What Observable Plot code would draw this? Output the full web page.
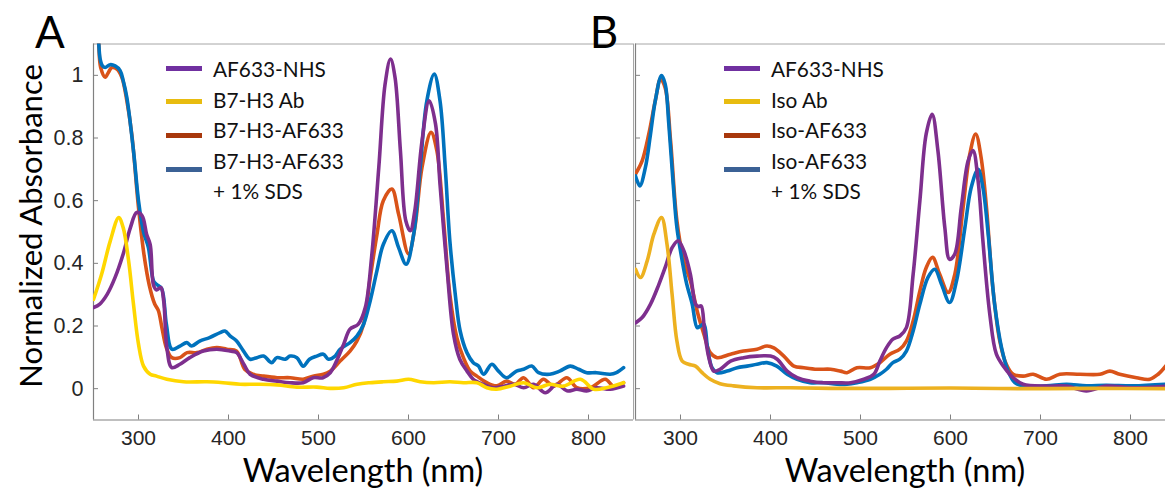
<!DOCTYPE html>
<html><head><meta charset="utf-8">
<script src="https://cdn.jsdelivr.net/npm/d3@7"></script>
<script src="https://cdn.jsdelivr.net/npm/@observablehq/plot@0.6"></script>
<style>
html,body{margin:0;padding:0;background:#fff;}
#wrap{position:relative;width:1165px;height:489px;overflow:hidden;}
.panel{position:absolute;top:0;}
.panel svg text{font-family:"Liberation Sans",Arial,sans-serif;}
.ttl{position:absolute;font-family:Lato,"Open Sans",sans-serif;color:#000;white-space:nowrap;line-height:1;}
.leg{position:absolute;font-family:Lato,"Open Sans",sans-serif;font-size:20.8px;color:#111;line-height:30.5px;width:300px;}
.leg .sw{position:absolute;width:36px;height:5px;}
.leg .tx{position:absolute;white-space:nowrap;}
</style></head>
<body><div id="wrap"></div>
<script>
// ---------- data ----------
const xTicks = [300, 400, 500, 600, 700, 800];
const yTicks = [0, 0.2, 0.4, 0.6, 0.8, 1];
const yTickLabels = ["0", "0.2", "0.4", "0.6", "0.8", "1"];
const legendA = ["AF633-NHS", "B7-H3 Ab", "B7-H3-AF633", "B7-H3-AF633\n+ 1% SDS"];
const legendB = ["AF633-NHS", "Iso Ab", "Iso-AF633", "Iso-AF633\n+ 1% SDS"];

// Panel A: [wavelength nm, normalized absorbance]
const A_NHS = [[250,0.259],[257,0.27],[265,0.30],[274,0.355],[283,0.43],[291,0.514],[298,0.562],[304,0.552],[309,0.493],[313,0.46],[316.7,0.33],[320,0.315],[324.8,0.323],[328,0.28],[331.5,0.131],[337,0.067],[346,0.078],[357,0.099],[372,0.12],[387,0.126],[402,0.12],[409,0.115],[417,0.078],[424,0.046],[439,0.03],[454,0.024],[468,0.019],[483,0.019],[494,0.035],[505,0.035],[513,0.051],[520,0.088],[528,0.142],[535,0.19],[544,0.205],[552,0.259],[559,0.42],[567,0.706],[574,0.972],[580,1.052],[585,0.994],[591,0.76],[597,0.536],[602,0.504],[607,0.568],[615,0.79],[623,0.919],[630,0.845],[635,0.653],[643,0.376],[650,0.174],[657,0.094],[665,0.056],[672,0.03],[683,0.014],[694,0.003],[706,0.008],[717,0.014],[728,0.003],[739,0.014],[752,-0.013],[765,0.014],[776,-0.007],[787,-0.002],[798,-0.007],[809,0.003],[824,-0.002],[839,0.008]];
const A_Ab = [[250,0.285],[259,0.365],[268.5,0.47],[278,0.546],[283,0.514],[289,0.408],[294.4,0.27],[300,0.142],[305.6,0.072],[313,0.046],[320,0.04],[331.5,0.03],[350,0.022],[376,0.022],[394,0.019],[413,0.014],[431.5,0.014],[454,0.012],[476,0.005],[498,0.005],[513,0.001],[528,0.003],[543,0.014],[557,0.019],[572,0.022],[587,0.024],[600,0.03],[613,0.022],[628,0.019],[646,0.022],[661,0.019],[676,0.019],[687,0.003],[698,-0.002],[713,0.008],[728,0.019],[743,0.003],[757,0.014],[772,0.008],[791,0.03],[806,-0.002],[820,0.003],[839,0.019]];
const A_Conj = [[250,1.3],[255.6,1.11],[258,1.025],[263,0.994],[266.7,1.01],[270.4,1.025],[276,1.02],[281.5,0.994],[287,0.92],[292.6,0.81],[300,0.578],[306,0.43],[312,0.33],[318,0.27],[322,0.25],[326,0.195],[331,0.13],[337,0.099],[346,0.099],[354,0.115],[365,0.115],[376,0.126],[387,0.131],[398,0.126],[409,0.12],[418,0.062],[427,0.046],[439,0.04],[454,0.035],[468.5,0.035],[483,0.03],[494,0.04],[505.5,0.046],[513,0.056],[524,0.088],[535,0.12],[542.6,0.152],[550,0.205],[557,0.344],[565,0.493],[572,0.6],[581.5,0.637],[589,0.557],[600,0.43],[607,0.514],[615,0.706],[625,0.818],[631.5,0.76],[639,0.536],[646,0.30],[653.7,0.163],[661,0.099],[668.6,0.056],[676,0.04],[687,0.019],[698,0.009],[709,0.024],[718.6,0.014],[727.8,0.035],[739,0.003],[750,0.03],[761,0.008],[776,0.035],[787,0.003],[802,0.003],[818.6,0.03],[828,0.008],[839,0.019]];
const A_SDS = [[250,1.3],[255.6,1.11],[257.4,1.052],[260,1.03],[263,1.025],[268.5,1.034],[274,1.03],[279.6,1.015],[283,0.983],[287,0.93],[294.4,0.76],[300,0.6],[305.6,0.50],[311,0.45],[316.7,0.344],[320,0.333],[325.6,0.32],[331,0.205],[337,0.126],[346,0.136],[353.7,0.147],[359,0.136],[368,0.152],[379,0.163],[390.7,0.179],[396,0.184],[402,0.168],[409,0.152],[416.7,0.12],[424,0.094],[431.5,0.099],[439,0.104],[448,0.083],[453.7,0.099],[463,0.094],[468.5,0.104],[476,0.099],[483,0.072],[490,0.094],[498,0.104],[505.5,0.11],[511,0.094],[518.5,0.104],[524,0.126],[535,0.147],[542.6,0.168],[550,0.205],[557.4,0.28],[564.9,0.376],[572,0.46],[581.5,0.504],[589,0.45],[597.4,0.397],[605.6,0.49],[613,0.706],[620.4,0.919],[628.6,1.004],[635,0.919],[640.8,0.706],[646,0.47],[652,0.30],[657.4,0.184],[664.9,0.115],[672,0.083],[677.8,0.072],[683.4,0.046],[692.6,0.078],[700,0.056],[709,0.035],[720,0.056],[728,0.062],[737,0.072],[744.5,0.051],[757,0.046],[768,0.056],[779.7,0.072],[789,0.062],[798,0.051],[809,0.051],[824,0.046],[831,0.051],[839,0.067]];

// Panel B
const B_NHS = [[250,0.21],[257.4,0.227],[266.7,0.27],[276,0.333],[283,0.387],[290.7,0.45],[297.4,0.472],[303.7,0.44],[311,0.365],[316.7,0.27],[320,0.262],[323,0.264],[326.7,0.184],[331.5,0.099],[337,0.056],[344,0.062],[355.6,0.088],[370,0.099],[385,0.104],[400,0.104],[407.4,0.094],[418.5,0.056],[429.6,0.035],[444,0.024],[459,0.019],[474,0.019],[489,0.019],[503.7,0.03],[514.8,0.046],[521.5,0.088],[528.9,0.131],[536,0.158],[543.7,0.168],[551,0.195],[558.5,0.365],[566,0.6],[573,0.813],[579.6,0.876],[586,0.76],[593.7,0.514],[599,0.413],[604.8,0.43],[612,0.578],[619.6,0.727],[625,0.76],[630.7,0.663],[636,0.472],[643.7,0.237],[651,0.11],[660,0.067],[669.6,0.035],[680.7,0.014],[706.7,0.008],[729,0.008],[751,-0.007],[773,0.008],[803,0.003],[839,0.008]];
const B_Ab = [[250,0.381],[255.6,0.355],[263,0.408],[270.4,0.493],[278.9,0.546],[285,0.461],[290.7,0.30],[296,0.152],[301.9,0.088],[309,0.078],[316.7,0.072],[324,0.051],[333,0.03],[344,0.016],[359,0.009],[385,0.003],[422,0.003],[467,0.001],[533,0.001],[600,0.002],[680,0.0],[760,0.001],[839,0.0]];
const B_Conj = [[250,0.685],[257.4,0.727],[264.8,0.813],[272,0.919],[277.8,0.988],[283,0.96],[289,0.79],[296,0.536],[303.7,0.408],[311,0.344],[318.5,0.248],[326,0.174],[333,0.115],[340.7,0.099],[355.6,0.11],[370,0.12],[385,0.126],[396,0.136],[403.7,0.13],[414.8,0.104],[426,0.072],[437,0.067],[451.9,0.062],[466.7,0.062],[477.8,0.056],[485,0.051],[496,0.067],[511,0.067],[521.5,0.083],[532.6,0.11],[543.7,0.126],[551,0.152],[558.5,0.216],[566,0.312],[573,0.386],[580,0.419],[588,0.365],[597.4,0.307],[604.8,0.365],[614,0.578],[621.5,0.749],[628,0.813],[634,0.738],[640,0.578],[647,0.323],[654.8,0.152],[662,0.078],[669.6,0.046],[680.7,0.04],[691.9,0.046],[706.7,0.03],[721.5,0.046],[743.7,0.046],[766,0.046],[777,0.056],[788,0.046],[806.7,0.035],[821.5,0.03],[830.7,0.046],[839,0.072]];
const B_SDS = [[250,0.679],[254.8,0.647],[261,0.706],[266.7,0.813],[272,0.919],[278.9,0.999],[283,0.972],[287,0.845],[291.9,0.653],[296,0.514],[301.9,0.408],[307,0.333],[313,0.27],[318.5,0.195],[322,0.2],[326,0.206],[330,0.131],[335,0.067],[340.7,0.051],[351.9,0.056],[363,0.067],[374,0.072],[385,0.078],[396,0.083],[407,0.072],[418.5,0.046],[429.6,0.03],[444,0.019],[459,0.019],[474,0.014],[485,0.014],[496,0.019],[511,0.03],[521.5,0.046],[528.9,0.062],[536,0.083],[543.7,0.094],[551,0.12],[558.5,0.184],[566,0.27],[575,0.355],[582.6,0.381],[590,0.333],[599,0.275],[606.7,0.344],[616,0.514],[623,0.642],[630.7,0.70],[636,0.642],[641.9,0.493],[649,0.27],[656.7,0.131],[664,0.056],[671.5,0.019],[680.7,0.009],[706.7,0.009],[729,0.014],[751,0.009],[773,0.011],[803,0.009],[839,0.014]];

// ---------- styles ----------
const lineColors = ["#7E2F8E", null, "#D95319", "#0072BD"];
const yellowA = "#FFD700", yellowB = "#EDB120";
const swatchColors = ["#7030A0", "#E8BC10", "#A8380C", "#3B6195"];
const xDomainA = [250, 850], xDomainB = [250, 838.9], yDomain = [-0.1, 1.1];

function panel(series, xDomain, opts) {
  const [nhs, ab, conj, sds, yellow] = series;
  const marks = [
    Plot.ruleY([yDomain[1]], {stroke: "#a6a6a6", strokeWidth: 1}),
    Plot.ruleX([xDomain[0]], {stroke: "#808080", strokeWidth: 1.2}),
    Plot.ruleY([yDomain[0]], {stroke: "#808080", strokeWidth: 1.2}),
  ];
  if (opts.rightFrame) marks.push(Plot.ruleX([xDomain[1]], {stroke: "#a6a6a6", strokeWidth: 1}));
  marks.push(
    Plot.axisX({ticks: xTicks, tickSize: -5, tickPadding: 15, stroke: "#808080", fontSize: 21, tickFormat: d => String(d)}),
    Plot.axisY({ticks: yTicks, tickSize: -5, tickPadding: 15, stroke: "#808080", fontSize: 21.5,
      tickFormat: opts.yLabels ? (d => yTickLabels[yTicks.indexOf(d)]) : (() => "")}),
    Plot.line(conj, {x: d => d[0], y: d => d[1], stroke: lineColors[2], strokeWidth: 3.6, curve: "catmull-rom", clip: true}),
    Plot.line(sds, {x: d => d[0], y: d => d[1], stroke: lineColors[3], strokeWidth: 3.6, curve: "catmull-rom", clip: true}),
    Plot.line(nhs, {x: d => d[0], y: d => d[1], stroke: lineColors[0], strokeWidth: 3.6, curve: "catmull-rom", clip: true}),
    Plot.line(ab, {x: d => d[0], y: d => d[1], stroke: yellow, strokeWidth: 3.6, curve: "catmull-rom", clip: true})
  );
  return Plot.plot({
    width: opts.width, height: 489,
    marginLeft: opts.ml, marginRight: opts.mr, marginTop: 43.5, marginBottom: 69.5,
    x: {domain: xDomain, label: null},
    y: {domain: yDomain, label: null},
    style: {color: "#262626", background: "transparent", overflow: "visible"},
    marks
  });
}

const wrap = document.getElementById("wrap");
function place(el, left) { const d = document.createElement("div"); d.className = "panel"; d.style.left = left + "px"; d.appendChild(el); wrap.appendChild(d); }
place(panel([A_NHS, A_Ab, A_Conj, A_SDS, yellowA], xDomainA, {width: 640, ml: 93, mr: 7, yLabels: true, rightFrame: true}), 0);
place(panel([B_NHS, B_Ab, B_Conj, B_SDS, yellowB], xDomainB, {width: 565, ml: 35, mr: 0, yLabels: false, rightFrame: false}), 600);

function addText(txt, left, top, size, extra) {
  const d = document.createElement("div"); d.className = "ttl"; d.textContent = txt;
  d.style.left = left + "px"; d.style.top = top + "px"; d.style.fontSize = size + "px";
  if (extra) Object.assign(d.style, extra);
  wrap.appendChild(d); return d;
}
// axis titles (centered)
addText("Wavelength (nm)", 363, 470, 32.5, {transform: "translate(-50%,-50%)"});
addText("Wavelength (nm)", 905, 470, 32.5, {transform: "translate(-50%,-50%)"});
addText("Normalized Absorbance", 30, 226, 31, {transform: "translate(-50%,-50%) rotate(-90deg)"});
addText("A", 50, 31, 44, {transform: "translate(-50%,-50%)", fontFamily: "Lato, sans-serif"});
addText("B", 604, 31, 44, {transform: "translate(-50%,-50%)", fontFamily: "Lato, sans-serif"});

function legend(labels, left, yellowSw) {
  const box = document.createElement("div"); box.className = "leg";
  box.style.left = left + "px"; box.style.top = "54px";
  let row = 0;
  labels.forEach((lab, i) => {
    const parts = lab.split("\n");
    const sw = document.createElement("div"); sw.className = "sw";
    sw.style.background = i === 1 ? yellowSw : swatchColors[i];
    sw.style.left = "0px"; sw.style.top = (11.8 + i * 33.6) + "px";
    box.appendChild(sw);
    parts.forEach(p => {
      const t = document.createElement("div"); t.className = "tx"; t.textContent = p;
      t.style.left = "47px"; t.style.top = (row * 30.5) + "px";
      box.appendChild(t); row++;
    });
  });
  wrap.appendChild(box);
}
legend(legendA, 166, swatchColors[1]);
legend(legendB, 724, swatchColors[1]);
</script></body></html>
